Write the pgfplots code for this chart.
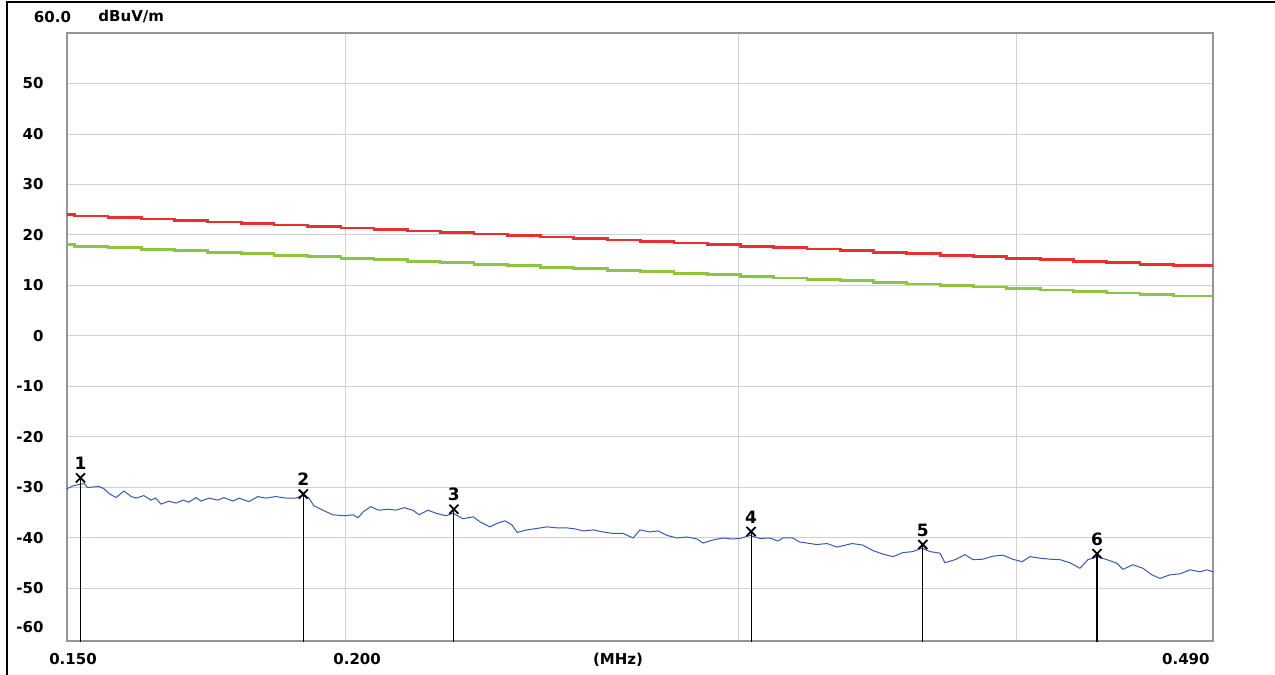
\documentclass[border=0pt]{standalone}
\usepackage{fontspec}
\setmainfont{DejaVu Sans}
\usepackage{pgfplots}
\usepackage{pgfplotstable}
\pgfplotsset{compat=1.18}

\definecolor{limred}{RGB}{232,48,48}
\definecolor{limgreen}{RGB}{140,198,63}
\definecolor{tracec}{RGB}{56,88,184}
\definecolor{framec}{RGB}{150,150,150}
\definecolor{gridc}{RGB}{208,208,216}

% limit lines (stepped), MHz / dBuV/m
\pgfplotstableread{
f red green
0.1500 24.08 18.08
0.1512 23.78 17.78
0.1565 23.48 17.48
0.1620 23.18 17.18
0.1676 22.88 16.88
0.1735 22.58 16.58
0.1796 22.29 16.29
0.1858 21.99 15.99
0.1923 21.69 15.69
0.1991 21.39 15.39
0.2060 21.09 15.09
0.2132 20.79 14.79
0.2207 20.49 14.49
0.2284 20.19 14.19
0.2364 19.90 13.90
0.2447 19.60 13.60
0.2532 19.30 13.30
0.2621 19.00 13.00
0.2713 18.70 12.70
0.2808 18.40 12.40
0.2906 18.10 12.10
0.3008 17.80 11.80
0.3113 17.50 11.50
0.3222 17.21 11.21
0.3335 16.91 10.91
0.3451 16.61 10.61
0.3572 16.31 10.31
0.3697 16.01 10.01
0.3826 15.71 9.71
0.3960 15.41 9.41
0.4099 15.11 9.11
0.4242 14.82 8.82
0.4391 14.52 8.52
0.4544 14.22 8.22
0.4703 13.92 7.92
0.4900 13.92 7.92
}\limits

% measured trace
\pgfplotstableread{
f v
0.1500 -30.4
0.1501 -30.2
0.1509 -29.7
0.1519 -29.4
0.1527 -29.2
0.1532 -30.0
0.1550 -29.8
0.1558 -30.2
0.1567 -31.2
0.1578 -32.0
0.1591 -30.7
0.1603 -31.8
0.1611 -32.1
0.1624 -31.6
0.1636 -32.5
0.1644 -32.1
0.1653 -33.3
0.1667 -32.7
0.1679 -33.1
0.1691 -32.5
0.1701 -32.9
0.1714 -32.0
0.1723 -32.7
0.1737 -32.1
0.1753 -32.5
0.1764 -32.0
0.1781 -32.7
0.1792 -32.1
0.1810 -32.8
0.1827 -31.8
0.1842 -32.1
0.1861 -31.8
0.1881 -32.1
0.1900 -32.1
0.1914 -31.6
0.1926 -32.1
0.1936 -33.6
0.1954 -34.5
0.1974 -35.4
0.1997 -35.6
0.2016 -35.4
0.2026 -36.0
0.2037 -34.8
0.2053 -33.8
0.2070 -34.5
0.2090 -34.3
0.2107 -34.5
0.2125 -34.0
0.2144 -34.5
0.2158 -35.4
0.2178 -34.5
0.2196 -35.1
0.2219 -35.6
0.2235 -35.1
0.2258 -36.2
0.2282 -35.8
0.2298 -36.8
0.2322 -37.8
0.2339 -37.1
0.2358 -36.6
0.2375 -37.4
0.2388 -38.9
0.2412 -38.4
0.2438 -38.1
0.2463 -37.8
0.2488 -38.0
0.2514 -38.0
0.2535 -38.2
0.2556 -38.6
0.2583 -38.4
0.2609 -38.8
0.2637 -39.1
0.2664 -39.1
0.2692 -40.0
0.2711 -38.4
0.2739 -38.8
0.2762 -38.6
0.2788 -39.5
0.2817 -40.0
0.2846 -39.8
0.2876 -40.2
0.2893 -41.0
0.2923 -40.4
0.2954 -40.0
0.2981 -40.2
0.3006 -40.1
0.3037 -39.5
0.3069 -40.1
0.3101 -40.0
0.3126 -40.6
0.3143 -40.0
0.3175 -40.0
0.3198 -40.8
0.3232 -41.1
0.3255 -41.3
0.3289 -41.1
0.3323 -41.8
0.3375 -41.1
0.3413 -41.4
0.3449 -42.5
0.3485 -43.2
0.3521 -43.7
0.3557 -42.9
0.3594 -42.7
0.3628 -42.0
0.3658 -42.7
0.3696 -43.0
0.3715 -44.9
0.3754 -44.3
0.3793 -43.3
0.3824 -44.3
0.3864 -44.2
0.3904 -43.6
0.3944 -43.4
0.3985 -44.2
0.4023 -44.7
0.4056 -43.7
0.4098 -44.0
0.4141 -44.2
0.4184 -44.3
0.4227 -44.9
0.4271 -46.0
0.4306 -44.3
0.4347 -43.7
0.4392 -44.3
0.4437 -45.0
0.4465 -46.2
0.4511 -45.3
0.4558 -46.0
0.4601 -47.3
0.4639 -48.0
0.4687 -47.3
0.4736 -47.1
0.4785 -46.3
0.4835 -46.7
0.4870 -46.3
0.4900 -46.7
}\trace

% peak markers
\pgfplotstableread{
f v label
0.1521 -28.1 1
0.1915 -31.3 2
0.2237 -34.3 3
0.3041 -38.7 4
0.3631 -41.3 5
0.4347 -43.1 6
}\peaks

\begin{document}
\begin{tikzpicture}
\tikzset{lbl/.style={font=\fontsize{7.5}{9}\selectfont\bfseries, inner sep=0pt}}
\path[use as bounding box] (-33.5pt,-17pt) rectangle (604pt,320.5pt);
\begin{axis}[
  at={(0,0)}, anchor=south west,
  scale only axis, width=573pt, height=304pt,
  xmode=log, xmin=0.15, xmax=0.49, ymin=-60.4, ymax=60,
  xtick={0.2,0.3,0.4}, xticklabels={0.200,{},{}}, minor xtick={},
  ytick={-50,-40,...,50},
  extra y ticks={-60},
  extra y tick style={grid=none, yticklabel style={yshift=5.9pt}},
  grid=major, major grid style={gridc, line width=0.5pt},
  major tick length=0pt, tick style={draw=none},
  axis line style={framec, line width=1.2pt},
  tick label style={font=\fontsize{7.5}{9}\selectfont\bfseries},
  /pgf/number format/assume math mode=true,
  yticklabel style={anchor=east, inner sep=0pt, xshift=-11.5pt},
  xticklabel style={anchor=center, inner sep=0pt, xshift=5.85pt, yshift=-9pt},
]
\addplot[limred, line width=1.4pt, const plot mark left] table[x=f, y=red] {\limits};
\addplot[limgreen, line width=1.4pt, const plot mark left] table[x=f, y=green] {\limits};
\addplot[tracec, line width=0.5pt] table[x=f, y=v] {\trace};
\addplot[black, line width=0.6pt, unbounded coords=jump] coordinates {
  (0.1521,-61) (0.1521,-28.1) (0.1521,nan)
  (0.1915,-61) (0.1915,-31.3) (0.1915,nan)
  (0.2237,-61) (0.2237,-34.3) (0.2237,nan)
  (0.3041,-61) (0.3041,-38.7) (0.3041,nan)
  (0.3631,-61) (0.3631,-41.3) (0.3631,nan)
  (0.4347,-61) (0.4347,-43.1)
};
\addplot[only marks, mark=x, mark size=3.2pt, mark options={black, line width=0.9pt},
  nodes near coords, point meta=explicit symbolic,
  every node near coord/.style={font=\fontsize{8.5}{10}\selectfont\bfseries,
    inner sep=0pt, anchor=south, yshift=3.6pt}]
  table[x=f, y=v, meta=label] {\peaks};
\end{axis}
\draw[black, line width=1pt] (-30pt,-17pt) -- (-30pt,319.3pt) -- (604pt,319.3pt);
\node[lbl] at (-7.25pt,312pt) {60.0};
\node[lbl, anchor=west] at (15.5pt,312pt) {dBuV/m};
\node[lbl] at (3pt,-9pt) {0.150};
\node[lbl, anchor=east] at (571.5pt,-9pt) {0.490};
\node[lbl] at (275.5pt,-9.5pt) {(MHz)};
\end{tikzpicture}
\end{document}
